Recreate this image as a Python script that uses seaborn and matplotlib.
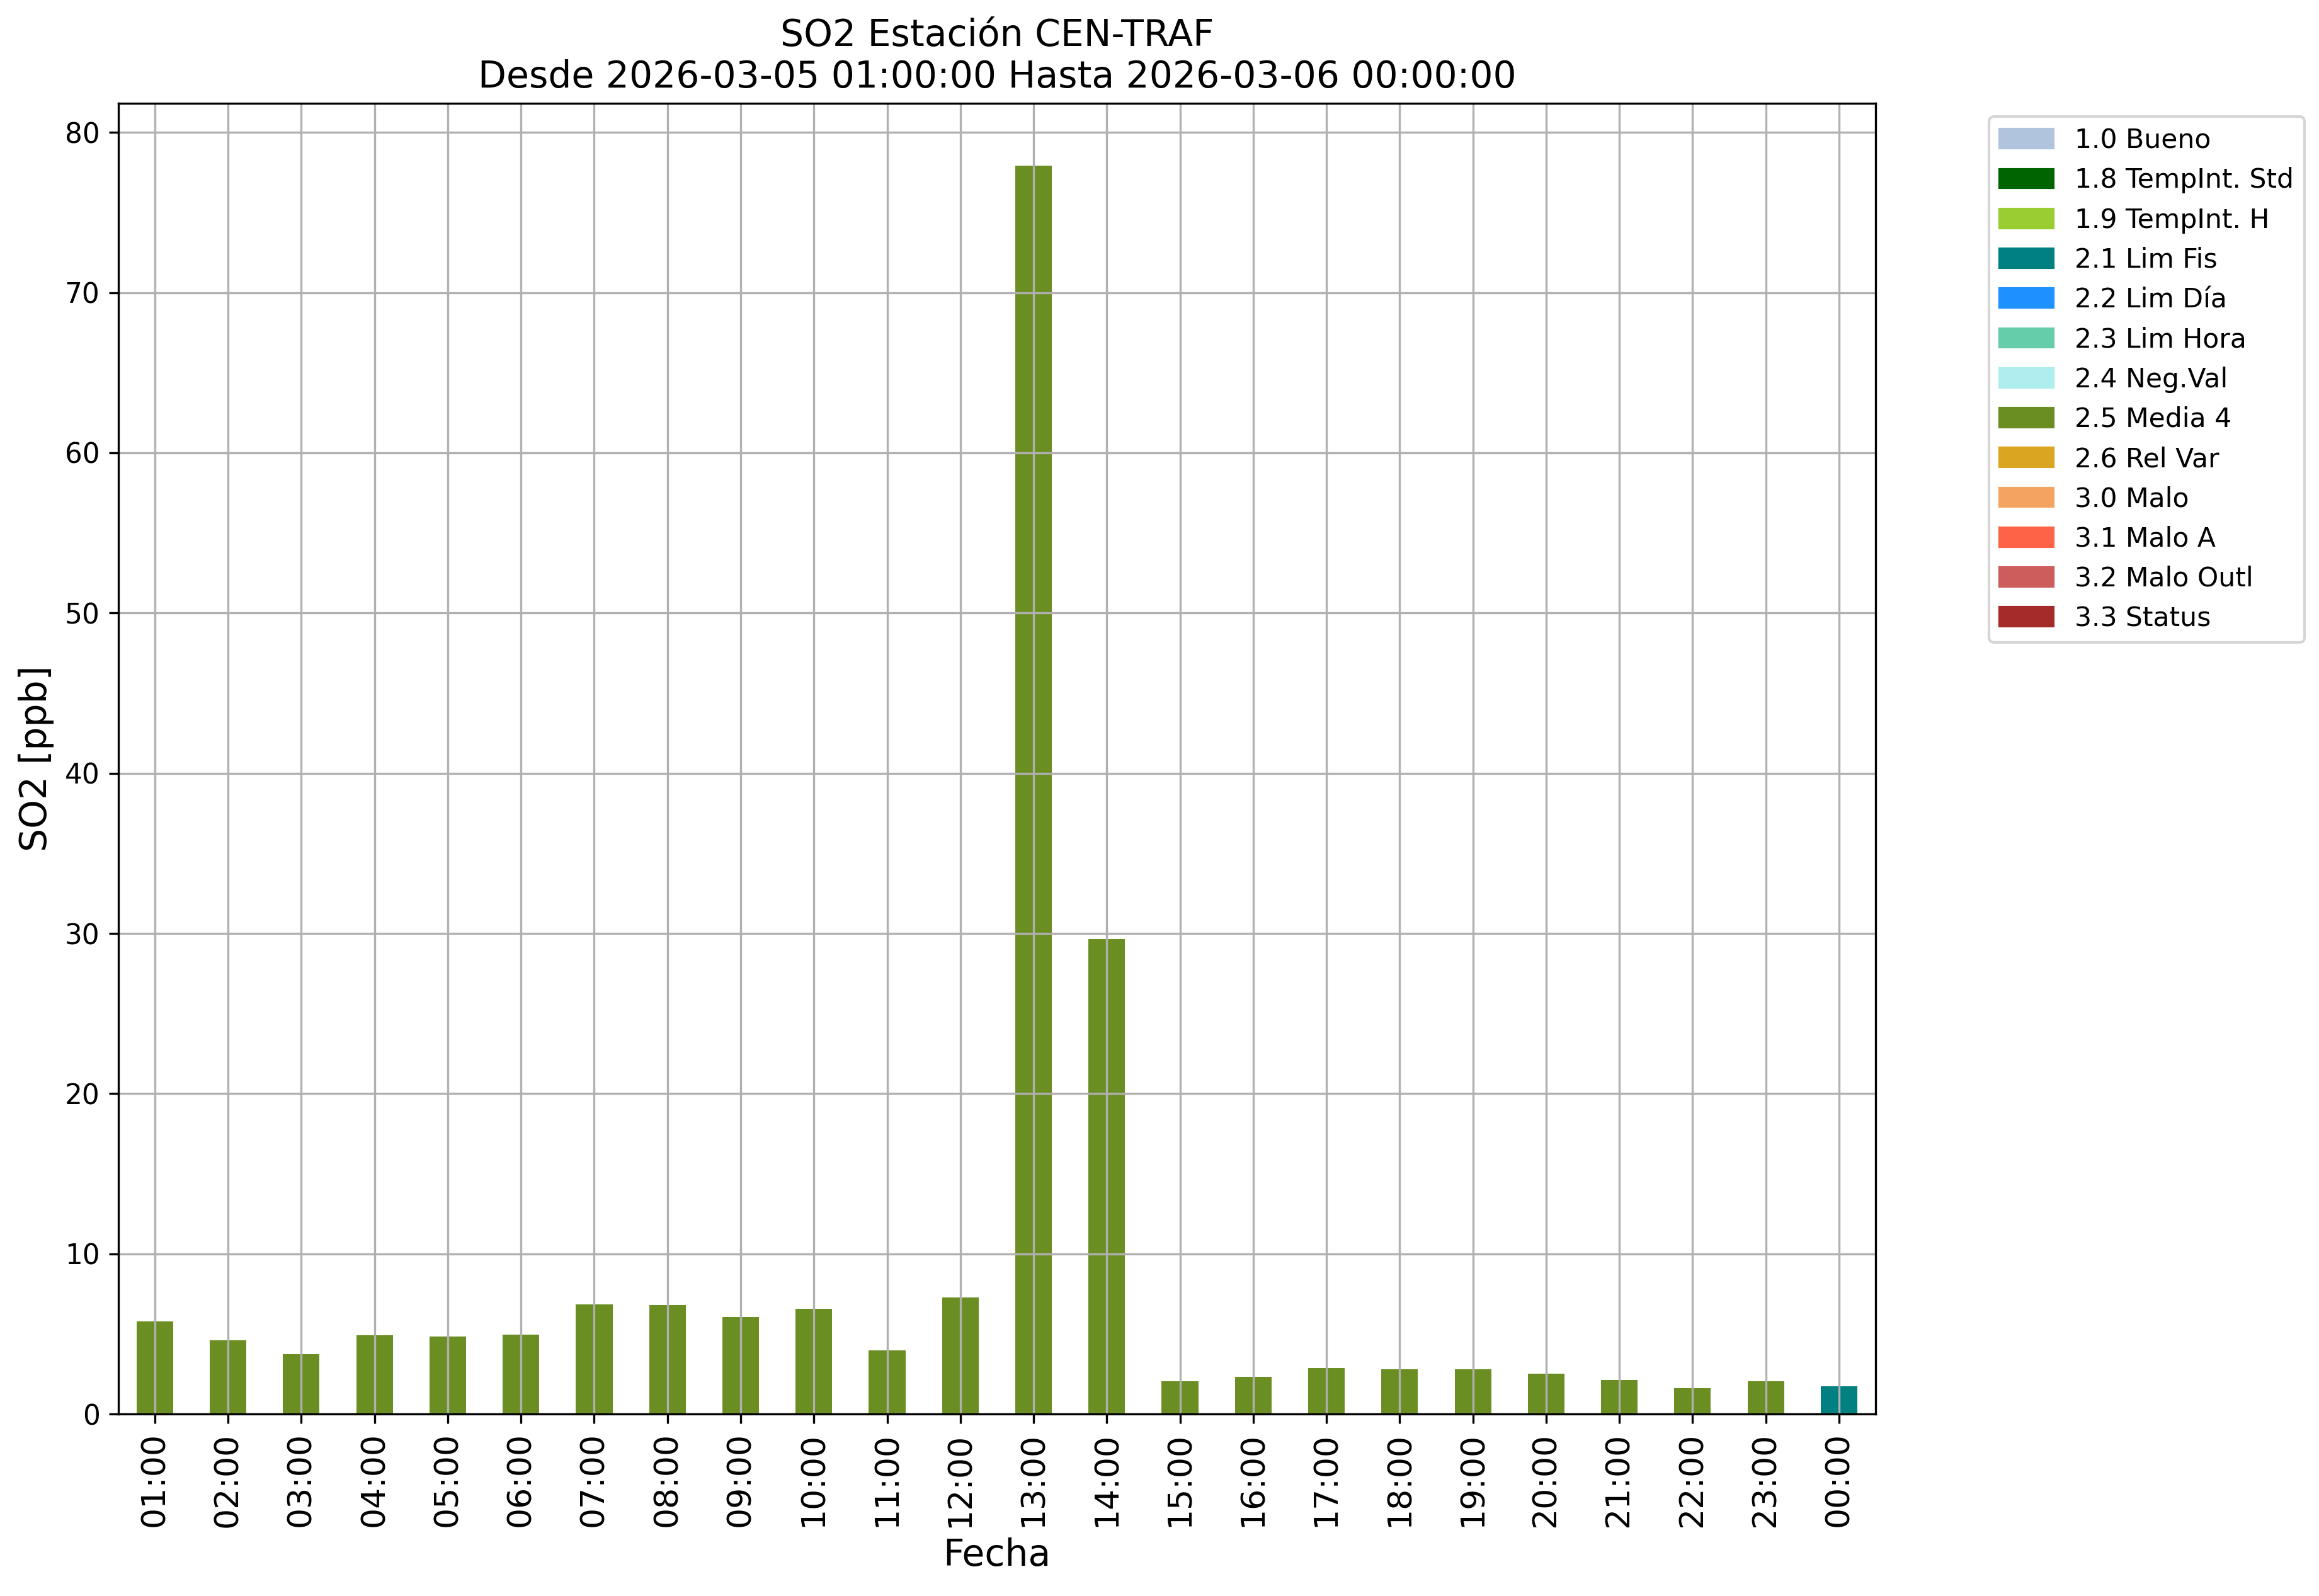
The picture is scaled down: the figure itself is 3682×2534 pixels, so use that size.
import pandas as pd
import seaborn as sns
import matplotlib.pyplot as plt
from matplotlib.patches import Patch

# datos horarios SO2
horas = ['01:00', '02:00', '03:00', '04:00', '05:00', '06:00', '07:00', '08:00',
         '09:00', '10:00', '11:00', '12:00', '13:00', '14:00', '15:00', '16:00',
         '17:00', '18:00', '19:00', '20:00', '21:00', '22:00', '23:00', '00:00']
so2 = [5.79, 4.60, 3.74, 4.92, 4.84, 4.96, 6.85, 6.81, 6.06, 6.57, 3.97, 7.28,
       77.92, 29.66, 2.05, 2.32, 2.87, 2.79, 2.79, 2.52, 2.13, 1.61, 2.05, 1.73]
flags = ['2.5 Media 4'] * 23 + ['2.1 Lim Fis']

# etiquetas y colores de validacion
etiquetas = ['1.0 Bueno', '1.8 TempInt. Std', '1.9 TempInt. H', '2.1 Lim Fis',
             '2.2 Lim Día', '2.3 Lim Hora', '2.4 Neg.Val', '2.5 Media 4',
             '2.6 Rel Var', '3.0 Malo', '3.1 Malo A', '3.2 Malo Outl', '3.3 Status']
colores = ['lightsteelblue', 'darkgreen', 'yellowgreen', 'teal', 'dodgerblue',
           'mediumaquamarine', 'paleturquoise', 'olivedrab', 'goldenrod',
           'sandybrown', 'tomato', 'indianred', 'brown']

df = pd.DataFrame({'Fecha': horas, 'SO2': so2, 'flag': flags})
paleta = dict(zip(etiquetas, colores))

fig, ax = plt.subplots(figsize=(3682 / 300, 2534 / 300))
sns.barplot(data=df, x='Fecha', y='SO2', hue='flag', order=horas,
            hue_order=etiquetas, palette=paleta, dodge=False, width=0.5,
            saturation=1, errorbar=None, legend=False, ax=ax)

ax.grid(True)
ax.set_xlim(-0.5, len(horas) - 0.5)
ax.tick_params(axis='x', labelrotation=90, labelsize=12.5)
ax.tick_params(axis='y', labelsize=10.5)
ax.set_xlabel('Fecha', fontsize=14)
ax.set_ylabel('SO2 [ppb]', fontsize=14)
ax.set_title('SO2 Estación CEN-TRAF\nDesde 2026-03-05 01:00:00 Hasta 2026-03-06 00:00:00',
             fontsize=14)

handles = [Patch(color=c, label=l) for l, c in zip(etiquetas, colores)]
ax.legend(handles=handles, loc='upper left', bbox_to_anchor=(1.057, 1), fontsize=10.2)

plt.subplots_adjust(left=0.051, right=0.8088, top=0.9353, bottom=0.114)
plt.savefig('out.png', dpi=300)
